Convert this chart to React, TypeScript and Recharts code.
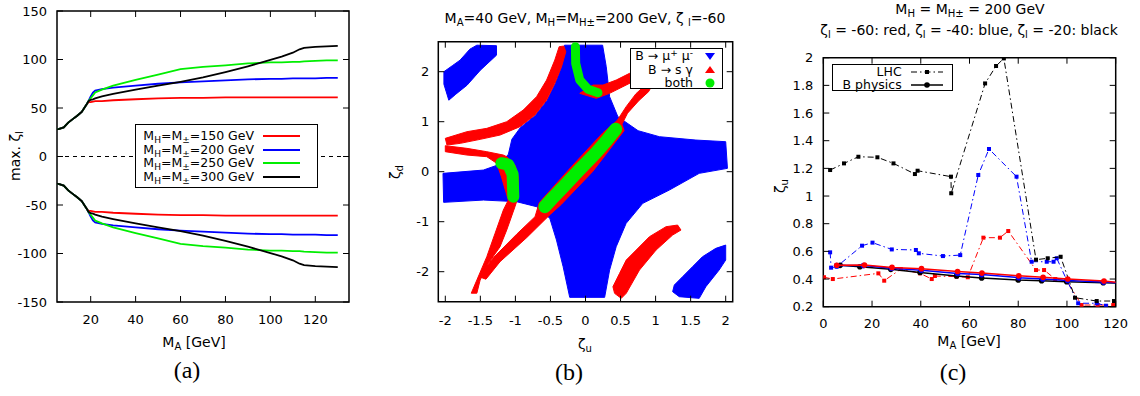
import React from 'react';
import { ComposedChart, Line, Scatter, XAxis, YAxis, ReferenceArea, ReferenceLine } from 'recharts';

const FONT = '"DejaVu Sans", Verdana, sans-serif';
const SERIF = '"Liberation Serif", "Times New Roman", Times, serif';
const RED = '#ff0000';
const BLUE = '#0000ff';
const GREEN = '#00ee00';
const BLACK = '#000000';

// ---------------- Panel (a): max. zeta_l vs M_A ----------------
const aMassA = [5, 6, 8, 10, 12, 14, 16, 18, 19, 20, 21, 22, 25, 30, 40, 50, 60, 70, 80, 90, 100, 105, 110, 113, 115, 120, 125, 130];
const aUp150 = [28, 28.5, 30, 35, 38.5, 42, 46, 53, 56, 56, 56.5, 57, 57, 58, 59, 60, 60.5, 60.5, 61, 61, 61, 61, 61, 61, 61, 61, 61, 61];
const aUp200 = [28, 28.5, 30, 35, 38.5, 42, 46, 53, 57, 62, 66, 68, 69.5, 71, 73, 75, 76.5, 77.5, 78.5, 79.5, 80, 80, 80.5, 80.5, 80.5, 80.5, 81, 81];
const aUp250 = [28, 28.5, 30, 35, 38.5, 42, 46, 53, 57, 60, 63, 66, 69, 73, 79, 84.5, 90, 92.5, 94, 96, 97, 97, 97.5, 97.5, 98, 98.5, 99, 99];
const aUp300 = [28, 28.5, 30, 35, 38.5, 42, 46, 53, 57, 58.5, 59, 60, 62, 64.5, 69, 73, 77, 81.5, 87, 93, 99.5, 103, 107, 110.5, 112, 113, 113.5, 114];
const aLo150 = [-28, -28.5, -30, -35, -38.5, -42, -46, -53, -56, -56, -56.5, -57, -57, -58, -59, -60, -60.5, -60.5, -61, -61, -61, -61, -61, -61, -61, -61, -61, -61];
const aLo200 = [-28, -28.5, -30, -35, -38.5, -42, -46, -53, -57, -62, -66, -68, -69.5, -71, -73, -75, -76.5, -77.5, -78.5, -79.5, -80, -80, -80.5, -80.5, -80.5, -80.5, -81, -81];
const aLo250 = [-28, -28.5, -30, -35, -38.5, -42, -46, -53, -57, -60, -63, -66, -69, -73, -79, -84.5, -90, -92.5, -94, -96, -97, -97, -97.5, -97.5, -98, -98.5, -99, -99];
const aLo300 = [-28, -28.5, -30, -35, -38.5, -42, -46, -53, -57, -58.5, -59, -60, -62, -64.5, -69, -73, -77, -81.5, -87, -93, -99.5, -103, -107, -110.5, -112, -113, -113.5, -114];
const aMasses = ['150', '200', '250', '300'];
const aXTicks = [20, 40, 60, 80, 100, 120];
const aYTicks = [-150, -100, -50, 0, 50, 100, 150];

const aSeries = [
  { m: aMasses[0], up: aUp150, lo: aLo150, color: RED },
  { m: aMasses[1], up: aUp200, lo: aLo200, color: BLUE },
  { m: aMasses[2], up: aUp250, lo: aLo250, color: GREEN },
  { m: aMasses[3], up: aUp300, lo: aLo300, color: BLACK },
];
const aTable = aMassA.map((x, i) => {
  const row: Record<string, number> = { x };
  aSeries.forEach((s) => {
    row['u' + s.m] = s.up[i];
    row['l' + s.m] = s.lo[i];
  });
  return row;
});

// ---------------- Panel (b): allowed regions in (zeta_u, zeta_d) ----------------
const bBlueCross = [[-0.3, 2.53], [0.244, 2.53], [0.296, 2.1], [0.344, 1.5], [0.462, 1.1], [0.75, 0.82], [1.054, 0.7], [1.575, 0.633], [2.0, 0.6], [2.025, 0.067], [1.622, -0.033], [1.196, -0.367], [0.817, -0.633], [0.58, -1.033], [0.438, -1.5], [0.344, -1.967], [0.273, -2.513], [-0.225, -2.513], [-0.319, -1.9], [-0.414, -1.367], [-0.509, -0.933], [-0.698, -0.7], [-0.983, -0.6], [-1.456, -0.567], [-2.024, -0.613], [-2.033, -0.033], [-1.456, 0.033], [-1.22, 0.15], [-1.1, 0.35], [-1.05, 0.65], [-0.93, 0.88], [-0.72, 1.12], [-0.55, 1.42], [-0.43, 1.77], [-0.34, 2.1], [-0.3, 2.53]];
const bBlueUL = [[-2.02, 2.0], [-1.9, 2.12], [-1.79, 2.23], [-1.65, 2.45], [-1.55, 2.53], [-1.27, 2.52], [-1.27, 2.33], [-1.5, 2.03], [-1.69, 1.73], [-1.85, 1.55], [-1.95, 1.43], [-2.02, 1.75], [-2.02, 2.0]];
const bBlueLR = [[1.243, -2.4], [1.338, -2.5], [1.622, -2.533], [1.717, -2.3], [1.906, -1.967], [2.0, -1.767], [2.0, -1.467], [1.859, -1.533], [1.669, -1.7], [1.527, -1.9], [1.385, -2.1], [1.267, -2.267], [1.243, -2.4]];
const bRedUL = [[-2.0, 0.667], [-1.692, 0.8], [-1.408, 0.867], [-1.124, 1.0], [-0.888, 1.233], [-0.698, 1.5], [-0.555, 1.833], [-0.438, 2.233], [-0.376, 2.5], [-0.31, 2.513], [-0.281, 2.4], [-0.342, 2.1], [-0.438, 1.767], [-0.555, 1.433], [-0.722, 1.133], [-0.935, 0.9], [-1.219, 0.733], [-1.503, 0.647], [-1.787, 0.567], [-1.976, 0.533], [-2.0, 0.667]];
const bRedLL = [[-2.0, 0.52], [-1.692, 0.467], [-1.408, 0.4], [-1.172, 0.333], [-1.124, 0.3], [-1.006, 0.133], [-0.96, -0.1], [-0.96, -0.5], [-1.006, -0.7], [-1.124, -1.167], [-1.219, -1.5], [-1.385, -1.833], [-1.503, -2.167], [-1.55, -2.43], [-1.63, -2.43], [-1.55, -2.167], [-1.408, -1.7], [-1.29, -1.233], [-1.172, -0.767], [-1.101, -0.567], [-1.2, -0.1], [-1.266, 0.167], [-1.408, 0.3], [-1.692, 0.333], [-2.0, 0.4], [-2.0, 0.52]];
const bRedDiag = [[-1.52, -2.1], [-1.314, -1.72], [-0.982, -1.25], [-0.72, -0.9], [-0.66, -0.62], [-0.2, 0.1], [0.25, 0.78], [0.45, 1.02], [0.58, 1.3], [0.72, 1.56], [0.86, 1.74], [0.94, 1.7], [0.9, 1.6], [0.76, 1.42], [0.6, 1.17], [0.52, 0.95], [0.55, 0.82], [0.1, 0.0], [-0.35, -0.66], [-0.5, -0.85], [-0.84, -1.32], [-1.219, -1.8], [-1.42, -2.15], [-1.52, -2.1]];
const bRedTop = [[-0.082, 1.567], [0.154, 1.467], [0.343, 1.567], [0.533, 1.7], [0.722, 1.833], [0.77, 1.967], [0.628, 1.967], [0.438, 1.833], [0.249, 1.733], [0.107, 1.733], [-0.082, 1.567]];
const bRedLR = [[0.415, -2.433], [0.51, -2.533], [0.581, -2.433], [0.77, -1.967], [1.007, -1.567], [1.243, -1.267], [1.362, -1.167], [1.314, -1.067], [1.149, -1.1], [0.912, -1.3], [0.723, -1.567], [0.581, -1.767], [0.486, -2.033], [0.391, -2.3], [0.415, -2.433]];
const bGreenTop = [[-0.144, 2.5], [-0.14, 2.167], [-0.082, 1.833], [0.036, 1.647], [0.178, 1.58]];
const bGreenLeft = [[-1.2, 0.17], [-1.1, 0.14], [-1.04, -0.05], [-1.03, -0.5]];
const bGreenDiag = [[-0.58, -0.7], [-0.45, -0.5], [-0.3, -0.28], [-0.1, 0.02], [0.15, 0.38], [0.3, 0.62], [0.43, 0.85]];
const bXTicks = [-2, -1.5, -1, -0.5, 0, 0.5, 1, 1.5, 2];
const bYTicks = [-2, -1, 0, 1, 2];

// ---------------- Panel (c): zeta_u vs M_A ----------------
const cLhcBlack = [[2.8, 1.188], [8.5, 1.236], [14.4, 1.284], [22.2, 1.28], [28.8, 1.236], [37.6, 1.159], [38.7, 1.183], [52.4, 1.14], [52.5, 1.02], [66.4, 1.814], [70.9, 1.94], [74.1, 1.995], [87.3, 0.54], [92.1, 0.55], [97.4, 0.561], [103.3, 0.265], [112.2, 0.241], [119.3, 0.241]];
const cLhcBlue = [[2.8, 0.593], [3.2, 0.482], [5.5, 0.489], [15.9, 0.641], [20.2, 0.663], [28.1, 0.614], [38, 0.61], [39.2, 0.586], [49.1, 0.566], [56.2, 0.573], [63.6, 1.152], [68, 1.34], [79.3, 1.14], [85.5, 0.525], [91.7, 0.525], [94.5, 0.525], [95.8, 0.55], [99.9, 0.393], [104.6, 0.225], [112.2, 0.225], [116, 0.207]];
const cLhcRed = [[0.3, 0.413], [3.9, 0.4], [22.6, 0.441], [25, 0.388], [31.8, 0.472], [39.7, 0.441], [44.5, 0.4], [45.8, 0.422], [54.7, 0.417], [59.3, 0.413], [65.7, 0.699], [72.5, 0.699], [75.9, 0.747], [87.3, 0.465], [90.6, 0.465], [95.2, 0.4], [99.9, 0.388], [106, 0.212], [112.6, 0.212], [119, 0.212]];
const cBBlack = [[6.9, 0.499], [15, 0.489], [27.7, 0.47], [39.7, 0.447], [54.7, 0.422], [65, 0.407], [80, 0.393], [89.6, 0.388], [99.9, 0.381], [114.9, 0.374], [120, 0.372]];
const cBBlue = [[5.5, 0.497], [16.5, 0.497], [28, 0.478], [40.2, 0.464], [55.1, 0.44], [65, 0.432], [80.2, 0.41], [90.1, 0.4], [100.3, 0.39], [115, 0.378], [120, 0.374]];
const cBRed = [[5.5, 0.5], [16.9, 0.501], [28.2, 0.484], [40.3, 0.475], [55.1, 0.455], [65.1, 0.443], [80.2, 0.423], [90.2, 0.412], [100.3, 0.4], [115.2, 0.386], [120, 0.377]];
const cXTicks = [0, 20, 40, 60, 80, 100, 120];
const cYTicks = [0.2, 0.4, 0.6, 0.8, 1, 1.2, 1.4, 1.6, 1.8, 2];
const cLastX = 120; // line runs to the frame; no symbol there

// ---------------- helpers ----------------
const pts = (arr: number[][]) => arr.map(([x, y]) => ({ x, y }));
const noShape = () => <g />;

const makeXTick = (plotH: number, off: number) => (p: any) => (
  <g>
    <line x1={p.x} y1={p.y} x2={p.x} y2={p.y - 6} stroke="#000" strokeWidth={1} />
    <line x1={p.x} y1={p.y - plotH} x2={p.x} y2={p.y - plotH + 6} stroke="#000" strokeWidth={1} />
    <text x={p.x} y={p.y + off} textAnchor="middle" fontFamily={FONT} fontSize={13} fill="#000">
      {String(p.payload.value)}
    </text>
  </g>
);
const makeYTick = (plotW: number, off: number) => (p: any) => (
  <g>
    <line x1={p.x} y1={p.y} x2={p.x + 6} y2={p.y} stroke="#000" strokeWidth={1} />
    <line x1={p.x + plotW} y1={p.y} x2={p.x + plotW - 6} y2={p.y} stroke="#000" strokeWidth={1} />
    <text x={p.x - off} y={p.y + 4.7} textAnchor="end" fontFamily={FONT} fontSize={13} fill="#000">
      {String(p.payload.value)}
    </text>
  </g>
);

const Sub = ({ children }: { children: React.ReactNode }) => (
  <span style={{ fontSize: '0.72em', position: 'relative', top: '0.3em' }}>{children}</span>
);
const Sup = ({ children }: { children: React.ReactNode }) => (
  <span style={{ fontSize: '0.72em', position: 'relative', top: '-0.45em' }}>{children}</span>
);

const Txt = ({ x, y, size = 14, rot = 0, family = FONT, children }: any) => (
  <div
    style={{
      position: 'absolute', left: x, top: y, whiteSpace: 'nowrap', fontFamily: family, fontSize: size,
      lineHeight: 1, color: '#000', transform: `translate(-50%, -50%) rotate(${rot}deg)`,
    }}
  >
    {children}
  </div>
);

// layout
const A = { left: 0, margin: { top: 11, right: 31, bottom: 8, left: 7 }, yW: 50, plotW: 292, plotH: 291 };
const B = { left: 380, margin: { top: 41.7, right: 27.3, bottom: 8.3, left: 18.3 }, yW: 40, plotW: 294.4, plotH: 260 };
const C = { left: 760, margin: { top: 57.7, right: 24.3, bottom: 3.3, left: 23.3 }, yW: 40, plotW: 292.4, plotH: 249 };

const axisCommon = { axisLine: false, tickLine: false, tickSize: 0, tickMargin: 0, interval: 0 as const, allowDataOverflow: true };

const PanelA = () => (
  <div style={{ position: 'absolute', left: A.left, top: 0 }}>
    <ComposedChart width={380} height={330} margin={A.margin} data={aTable}>
      <XAxis type="number" dataKey="x" domain={[5, 135]} ticks={aXTicks} height={20} {...axisCommon} tick={makeXTick(A.plotH, 22)} />
      <YAxis type="number" domain={[-150, 150]} ticks={aYTicks} width={A.yW} {...axisCommon} tick={makeYTick(A.plotW, 10)} />
      <ReferenceLine y={0} stroke="#000" strokeDasharray="4 4" strokeWidth={1} />
      {aSeries.map((s) => (
        <Line key={'u' + s.m} type="linear" dataKey={'u' + s.m} stroke={s.color} strokeWidth={1.8} dot={false} isAnimationActive={false} />
      ))}
      {aSeries.map((s) => (
        <Line key={'l' + s.m} type="linear" dataKey={'l' + s.m} stroke={s.color} strokeWidth={1.8} dot={false} isAnimationActive={false} />
      ))}
      <ReferenceArea x1={5} x2={135} y1={-150} y2={150} fill="none" stroke="#000" strokeWidth={1.5} />
    </ComposedChart>
  </div>
);

const bRegions = [
  { d: bBlueCross, c: BLUE },
  { d: bBlueUL, c: BLUE },
  { d: bBlueLR, c: BLUE },
  { d: bRedUL, c: RED },
  { d: bRedLL, c: RED },
  { d: bRedDiag, c: RED },
  { d: bRedTop, c: RED },
  { d: bRedLR, c: RED },
];
const bBands = [
  { d: bGreenTop, w: 9 },
  { d: bGreenLeft, w: 12 },
  { d: bGreenDiag, w: 13 },
];

const PanelB = () => (
  <div style={{ position: 'absolute', left: B.left, top: 0 }}>
    <ComposedChart width={380} height={330} margin={B.margin}>
      <XAxis type="number" dataKey="x" domain={[-2.1, 2.1]} ticks={bXTicks} height={20} {...axisCommon} tick={makeXTick(B.plotH, 23)} />
      <YAxis type="number" dataKey="y" domain={[-2.6, 2.6]} ticks={bYTicks} width={B.yW} {...axisCommon} tick={makeYTick(B.plotW, 9)} />
      {bRegions.map((r, i) => (
        <Scatter key={'r' + i} data={pts(r.d)} line={{ fill: r.c, stroke: r.c, strokeWidth: 1 }} shape={noShape} isAnimationActive={false} />
      ))}
      {bBands.map((g, i) => (
        <Scatter key={'g' + i} data={pts(g.d)} line={{ fill: 'none', stroke: GREEN, strokeWidth: g.w, strokeLinecap: 'round', strokeLinejoin: 'round' }} shape={noShape} isAnimationActive={false} />
      ))}
      <ReferenceArea x1={-2.1} x2={2.1} y1={-2.6} y2={2.6} fill="none" stroke="#000" strokeWidth={1.5} />
    </ComposedChart>
  </div>
);

const square = (color: string) => (p: any) => <rect x={p.cx - 2} y={p.cy - 2} width={4} height={4} fill={color} />;
const circle = (color: string) => (p: any) =>
  p.payload && p.payload.x >= cLastX ? <g /> : <circle cx={p.cx} cy={p.cy} r={2.8} fill={color} />;
const DASHDOT = '6 3 1.5 3';

const cLhc = [
  { d: cLhcRed, c: RED },
  { d: cLhcBlue, c: BLUE },
  { d: cLhcBlack, c: BLACK },
];
const cB = [
  { d: cBBlack, c: BLACK },
  { d: cBBlue, c: BLUE },
  { d: cBRed, c: RED },
];

const PanelC = () => (
  <div style={{ position: 'absolute', left: C.left, top: 0 }}>
    <ComposedChart width={380} height={330} margin={C.margin}>
      <XAxis type="number" dataKey="x" domain={[0, 120]} ticks={cXTicks} height={20} {...axisCommon} tick={makeXTick(C.plotH, 21.5)} />
      <YAxis type="number" dataKey="y" domain={[0.2, 2]} ticks={cYTicks} width={C.yW} {...axisCommon} tick={makeYTick(C.plotW, 10)} />
      {cLhc.map((s, i) => (
        <Scatter key={'lhc' + i} data={pts(s.d)} line={{ stroke: s.c, strokeWidth: 1, strokeDasharray: DASHDOT, fill: 'none' }} shape={square(s.c)} isAnimationActive={false} />
      ))}
      {cB.map((s, i) => (
        <Scatter key={'b' + i} data={pts(s.d)} line={{ stroke: s.c, strokeWidth: 1.5, fill: 'none' }} shape={circle(s.c)} isAnimationActive={false} />
      ))}
      <ReferenceArea x1={0} x2={120} y1={0.2} y2={2} fill="none" stroke="#000" strokeWidth={1.5} />
    </ComposedChart>
  </div>
);

export default function App() {
  return (
    <div style={{ position: 'absolute', left: 0, top: 0, width: 1140, height: 396, background: '#fff', overflow: 'hidden', fontFamily: FONT }}>
      <PanelA />
      <PanelB />
      <PanelC />

      {/* Panel (a) texts */}
      <Txt x={15} y={156} rot={-90}>max. ζ<Sub>l</Sub></Txt>
      <Txt x={194} y={342}>M<Sub>A</Sub> [GeV]</Txt>
      <Txt x={187} y={370} size={24} family={SERIF}>(a)</Txt>
      <div style={{ position: 'absolute', left: 135, top: 124, width: 181, height: 62, border: '1px solid #000', background: '#fff' }}>
        {aSeries.map((s, i) => (
          <React.Fragment key={s.m}>
            <div style={{ position: 'absolute', left: 0, width: 118, top: [11, 25, 38, 52][i] - 8, textAlign: 'right', fontSize: 12.5, lineHeight: '15px', whiteSpace: 'nowrap', fontFamily: FONT }}>
              M<Sub>H</Sub>=M<Sub>±</Sub>={s.m} GeV
            </div>
            <div style={{ position: 'absolute', left: 127, width: 37, top: [11, 25, 38, 52][i] - 1, height: 2, background: s.color }} />
          </React.Fragment>
        ))}
      </div>

      {/* Panel (b) texts */}
      <Txt x={585} y={18}>M<Sub>A</Sub>=40 GeV, M<Sub>H</Sub>=M<Sub>H±</Sub>=200 GeV, ζ <Sub>l</Sub>=-60</Txt>
      <Txt x={395} y={172} rot={-90}>ζ<Sub>d</Sub></Txt>
      <Txt x={585} y={344}>ζ<Sub>u</Sub></Txt>
      <Txt x={569} y={372} size={24} family={SERIF}>(b)</Txt>
      <div style={{ position: 'absolute', left: 630, top: 48, width: 91, height: 39, border: '1px solid #000', background: '#fff', fontSize: 12.5, fontFamily: FONT }}>
        <div style={{ position: 'absolute', right: 29, top: 0, lineHeight: '14px', whiteSpace: 'nowrap' }}>B → μ<Sup>+</Sup> μ<Sup>-</Sup></div>
        <div style={{ position: 'absolute', right: 29, top: 14, lineHeight: '14px', whiteSpace: 'nowrap' }}>B → s γ</div>
        <div style={{ position: 'absolute', right: 29, top: 27, lineHeight: '14px', whiteSpace: 'nowrap' }}>both</div>
        <svg style={{ position: 'absolute', left: 0, top: 0 }} width={91} height={39}>
          <polygon points="74,4 84,4 79,11" fill={BLUE} />
          <polygon points="74,24 84,24 79,17" fill={RED} />
          <circle cx={79} cy={34} r={4.5} fill={GREEN} />
        </svg>
      </div>

      {/* Panel (c) texts */}
      <Txt x={970} y={8.5}>M<Sub>H</Sub> = M<Sub>H±</Sub> = 200 GeV</Txt>
      <Txt x={969} y={30}>ζ<Sub>l</Sub> = -60: red, ζ<Sub>l</Sub> = -40: blue, ζ<Sub>l</Sub> = -20: black</Txt>
      <Txt x={780} y={186} rot={-90}>ζ<Sub>u</Sub></Txt>
      <Txt x={969} y={341}>M<Sub>A</Sub> [GeV]</Txt>
      <Txt x={953} y={372} size={24} family={SERIF}>(c)</Txt>
      <div style={{ position: 'absolute', left: 831.7, top: 64.3, width: 119, height: 25, border: '1px solid #000', background: '#fff', fontSize: 12.5, fontFamily: FONT }}>
        <div style={{ position: 'absolute', right: 50, top: 0, lineHeight: '14px', whiteSpace: 'nowrap' }}>LHC</div>
        <div style={{ position: 'absolute', right: 50, top: 13, lineHeight: '14px', whiteSpace: 'nowrap' }}>B physics</div>
        <svg style={{ position: 'absolute', left: 0, top: 0 }} width={119} height={25}>
          <line x1={78} y1={7} x2={110} y2={7} stroke={BLACK} strokeWidth={1} strokeDasharray={DASHDOT} />
          <rect x={92} y={5} width={4} height={4} fill={BLACK} />
          <line x1={78} y1={20} x2={110} y2={20} stroke={BLACK} strokeWidth={1.5} />
          <circle cx={94} cy={20} r={2.8} fill={BLACK} />
        </svg>
      </div>
    </div>
  );
}
